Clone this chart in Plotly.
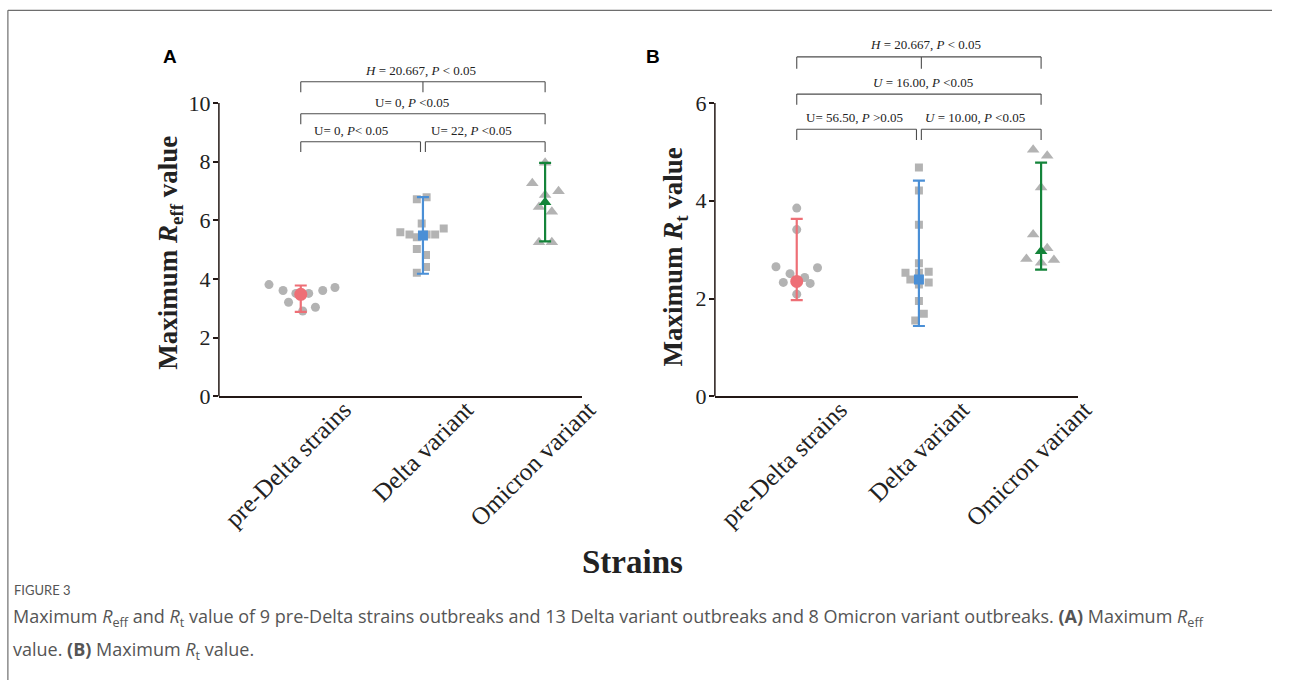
import plotly.graph_objects as go

W, H = 1290, 693

categories = ["pre-Delta strains", "Delta variant", "Omicron variant"]

# ---- Panel A: Maximum R_eff ----
a_pre_vals = [3.81, 3.61, 3.21, 3.51, 2.91, 3.51, 3.04, 3.61, 3.71]
a_pre_jit = [-0.26, -0.145, -0.10, -0.04, 0.016, 0.065, 0.12, 0.18, 0.28]
a_del_vals = [6.72, 6.79, 5.89, 5.59, 5.52, 5.42, 5.52, 5.52, 5.72, 5.02, 4.82, 4.41, 4.21]
a_del_jit = [-0.05, 0.03, -0.01, -0.185, -0.11, -0.05, 0.03, 0.10, 0.17, -0.05, 0.025, 0.025, -0.05]
a_omi_vals = [7.96, 7.26, 6.99, 6.86, 6.45, 6.29, 5.25, 5.25]
a_omi_jit = [0.0, -0.105, 0.11, 0.0, -0.05, 0.055, -0.05, 0.055]
a_center = [3.48, 5.48, 6.62]
a_low = [2.88, 4.18, 5.28]
a_high = [3.78, 6.79, 7.96]

# ---- Panel B: Maximum R_t ----
b_pre_vals = [3.85, 3.41, 2.65, 2.63, 2.51, 2.33, 2.43, 2.31, 2.09]
b_pre_jit = [0.0, 0.0, -0.17, 0.17, -0.055, -0.11, 0.065, 0.11, 0.0]
b_del_vals = [4.68, 4.21, 3.51, 2.72, 2.53, 2.53, 2.55, 2.39, 2.33, 2.29, 1.95, 1.69, 1.55]
b_del_jit = [0.0, 0.0, 0.0, 0.0, -0.11, 0.0, 0.08, -0.07, 0.08, 0.0, 0.0, 0.04, -0.03]
b_omi_vals = [5.04, 4.92, 4.27, 3.31, 3.03, 2.81, 2.79, 2.73]
b_omi_jit = [-0.065, 0.05, 0.0, -0.065, 0.05, -0.12, 0.105, 0.0]
b_center = [2.35, 2.39, 2.97]
b_low = [1.97, 1.44, 2.59]
b_high = [3.63, 4.41, 4.78]

colors = ["#EE6F76", "#4A8FD6", "#14843A"]
symbols = ["circle", "square", "triangle-up"]
gray_sizes = [9, 8, 11]
mean_sizes = [13, 10, 11]
gray = "#B3B3B3"
axis_col = "#231815"
serif = "Liberation Serif"

fig = go.Figure()

panels = [
    ("x", "y", [(a_pre_vals, a_pre_jit), (a_del_vals, a_del_jit), (a_omi_vals, a_omi_jit)], a_center, a_low, a_high),
    ("x2", "y2", [(b_pre_vals, b_pre_jit), (b_del_vals, b_del_jit), (b_omi_vals, b_omi_jit)], b_center, b_low, b_high),
]

for xa, ya, groups, cen, lo, hi in panels:
    for i, (vals, jit) in enumerate(groups):
        fig.add_trace(go.Scatter(
            x=[i + j for j in jit], y=vals, mode="markers", xaxis=xa, yaxis=ya,
            marker=dict(symbol=symbols[i], color=gray, size=gray_sizes[i]),
            showlegend=False, hoverinfo="y"))
    for i in range(3):
        fig.add_trace(go.Scatter(
            x=[i], y=[cen[i]], mode="markers", xaxis=xa, yaxis=ya,
            marker=dict(symbol=symbols[i], color=colors[i], size=mean_sizes[i]),
            error_y=dict(type="data", symmetric=False, array=[hi[i] - cen[i]],
                         arrayminus=[cen[i] - lo[i]], color=colors[i], thickness=2.2, width=6),
            showlegend=False, hoverinfo="y"))


def pxx(X):
    return X / W


def py(Y):
    return 1 - Y / H


xr = [-0.67, 2.3]
common_x = dict(range=xr, tickvals=[0, 1, 2], ticktext=categories, tickangle=-45,
                showline=True, linecolor=axis_col, linewidth=1.5, ticks="",
                ticklabelshift=43, ticklabelstandoff=-13,
                showgrid=False, zeroline=False,
                tickfont=dict(family=serif, size=25, color="#222"))
common_y = dict(ticks="outside", ticklen=5, tickcolor=axis_col, tickwidth=1.5, showline=False,
                ticklabelstandoff=-2,
                showgrid=False, zeroline=False,
                tickfont=dict(family=serif, size=22, color="#222"))
fig.update_layout(
    width=W, height=H, margin=dict(l=0, r=0, t=0, b=0), autosize=False,
    plot_bgcolor="white", paper_bgcolor="white",
    xaxis=dict(domain=[pxx(222), pxx(590)], anchor="y", **common_x),
    xaxis2=dict(domain=[pxx(725), pxx(1093)], anchor="y2", **common_x),
    yaxis=dict(domain=[py(404), py(75)], range=[0, 11.0], tickvals=[0, 2, 4, 6, 8, 10],
               anchor="x", **common_y),
    yaxis2=dict(domain=[py(404), py(55)], range=[0, 7.0], tickvals=[0, 2, 4, 6],
                anchor="x2", **common_y),
)

shapes = []
# y axis lines (only up to the top tick)
shapes.append(dict(type="line", xref="paper", yref="y", x0=pxx(222), x1=pxx(222), y0=0, y1=10,
                   line=dict(color=axis_col, width=1.5)))
shapes.append(dict(type="line", xref="paper", yref="y2", x0=pxx(725), x1=pxx(725), y0=0, y1=6,
                   line=dict(color=axis_col, width=1.5)))

bcol = "#4D4D4D"


def bracket(xref, yref, xa, xb, ytop, ybot, mid=None):
    L = dict(color=bcol, width=1.1)
    out = [dict(type="line", xref=xref, yref=yref, x0=xa, x1=xb, y0=ytop, y1=ytop, line=L),
           dict(type="line", xref=xref, yref=yref, x0=xa, x1=xa, y0=ytop, y1=ybot, line=L),
           dict(type="line", xref=xref, yref=yref, x0=xb, x1=xb, y0=ytop, y1=ybot, line=L)]
    if mid is not None:
        out.append(dict(type="line", xref=xref, yref=yref, x0=mid, x1=mid, y0=ytop, y1=ybot, line=L))
    return out


# Panel A brackets
shapes += bracket("x", "y", 0, 2, 10.72, 10.36, mid=1)
shapes += bracket("x", "y", 0, 2, 9.63, 9.27)
shapes += bracket("x", "y", 0, 0.98, 8.68, 8.33)
shapes += bracket("x", "y", 1.02, 2, 8.68, 8.33)
# Panel B brackets
shapes += bracket("x2", "y2", 0, 2, 6.94, 6.70, mid=1.02)
shapes += bracket("x2", "y2", 0, 2, 6.18, 5.96)
shapes += bracket("x2", "y2", 0, 0.98, 5.46, 5.24)
shapes += bracket("x2", "y2", 1.02, 2, 5.46, 5.24)

# outer frame (top and left edges)
fx, fy = pxx(8), py(10.5)
shapes.append(dict(type="line", xref="paper", yref="paper", x0=fx, x1=1.0, y0=fy, y1=fy,
                   line=dict(color="#6E6E6E", width=1.2)))
shapes.append(dict(type="line", xref="paper", yref="paper", x0=fx, x1=fx, y0=fy, y1=0,
                   line=dict(color="#6E6E6E", width=1.2)))
fig.update_layout(shapes=shapes)

ann = []


def stat(xref, yref, x, y, text):
    ann.append(dict(xref=xref, yref=yref, x=x, y=y, text=text, showarrow=False,
                    font=dict(family=serif, size=13, color="#222"), xanchor="center", yanchor="bottom"))


stat("x", "y", 0.98, 10.78, "<i>H</i> = 20.667, <i>P</i> < 0.05")
stat("x", "y", 0.91, 9.69, "U= 0, <i>P</i> <0.05")
stat("x", "y", 0.41, 8.74, "U= 0, <i>P</i>< 0.05")
stat("x", "y", 1.40, 8.74, "U= 22, <i>P</i> <0.05")
stat("x2", "y2", 1.05, 7.0, "<i>H</i> = 20.667, <i>P</i> < 0.05")
stat("x2", "y2", 1.03, 6.22, "<i>U</i> = 16.00, <i>P</i> <0.05")
stat("x2", "y2", 0.47, 5.50, "U= 56.50, <i>P</i> >0.05")
stat("x2", "y2", 1.46, 5.50, "<i>U</i> = 10.00, <i>P</i> <0.05")

# panel letters
for letter, xp in [("A", 172), ("B", 662)]:
    ann.append(dict(xref="paper", yref="paper", x=pxx(xp), y=py(58), text="<b>" + letter + "</b>",
                    showarrow=False, font=dict(family="Liberation Sans", size=19, color="#000"),
                    xanchor="center", yanchor="middle"))

# y axis titles
ann.append(dict(xref="paper", yref="paper", x=pxx(173), y=py(258), textangle=-90,
                text="<b>Maximum <i>R</i><sub>eff</sub> value</b>", showarrow=False,
                font=dict(family=serif, size=27, color="#222"), xanchor="center", yanchor="middle"))
ann.append(dict(xref="paper", yref="paper", x=pxx(685), y=py(262), textangle=-90,
                text="<b>Maximum <i>R</i><sub>t</sub> value</b>", showarrow=False,
                font=dict(family=serif, size=27, color="#222"), xanchor="center", yanchor="middle"))
# shared x title
ann.append(dict(xref="paper", yref="paper", x=pxx(641), y=py(573), text="<b>Strains</b>",
                showarrow=False, font=dict(family=serif, size=33, color="#222"),
                xanchor="center", yanchor="middle"))
# caption
cap_font = "Open Sans"
cap_col = "#555555"
ann.append(dict(xref="paper", yref="paper", x=pxx(12), y=py(601), text="FIGURE 3",
                showarrow=False, font=dict(family="Lato", size=13, color=cap_col),
                xanchor="left", yanchor="middle"))
ann.append(dict(xref="paper", yref="paper", x=pxx(11), y=py(629), align="left",
                text=("Maximum <i>R</i><sub>eff</sub> and <i>R</i><sub>t</sub> value of 9 pre-Delta strains outbreaks "
                      "and 13 Delta variant outbreaks and 8 Omicron variant outbreaks. <b>(A)</b> Maximum <i>R</i><sub>eff</sub>"),
                showarrow=False, font=dict(family=cap_font, size=18, color=cap_col),
                xanchor="left", yanchor="middle"))
ann.append(dict(xref="paper", yref="paper", x=pxx(11), y=py(663), align="left",
                text="value. <b>(B)</b> Maximum <i>R</i><sub>t</sub> value.",
                showarrow=False, font=dict(family=cap_font, size=18, color=cap_col),
                xanchor="left", yanchor="middle"))
fig.update_layout(annotations=ann)

# remove the page's default body margin so the figure sits at the window origin
fig.write_html("out.html", config={"displayModeBar": False},
               post_script="document.body.style.margin='0';document.body.style.overflow='hidden';")
